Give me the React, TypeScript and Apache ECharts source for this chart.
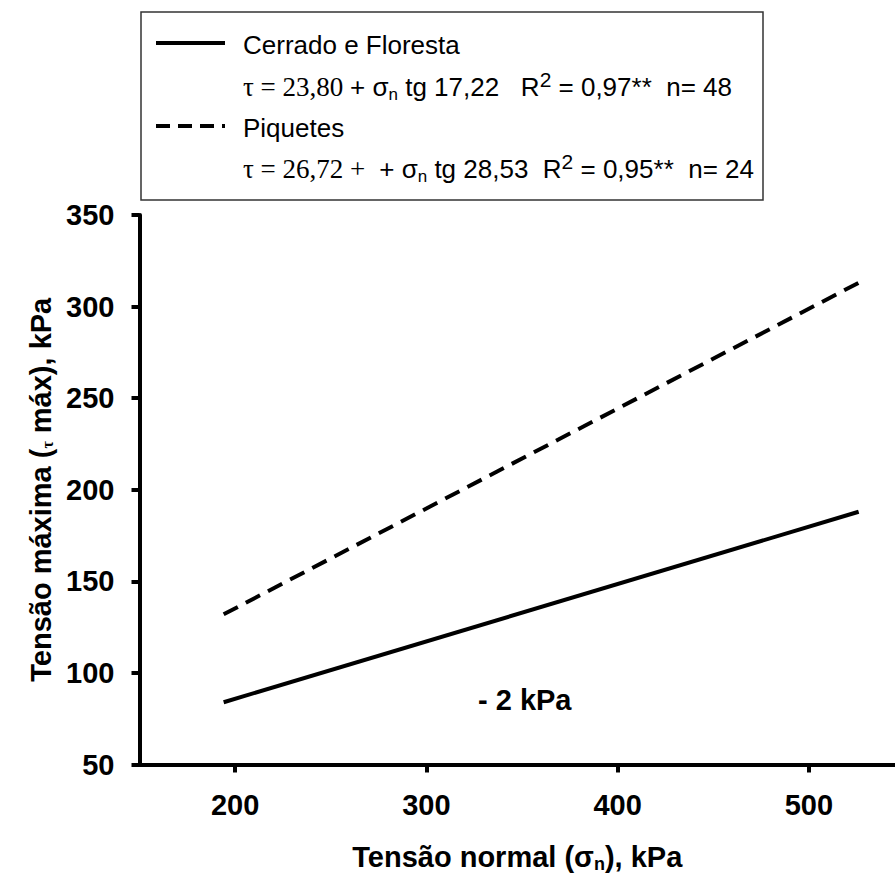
import React, { useEffect, useRef } from "react";
import * as echarts from "echarts";

// Shear envelopes: normal stress (kPa) vs. maximum shear stress (kPa)
const normalStress = [194, 526];
const cerradoFloresta = [84, 188];
const piquetes = [132, 313];

const xTickValues = [200, 300, 400, 500];
const yMin = 50;
const yMax = 350;
const yStep = 50;

const legendRows = [
  {
    name: "Cerrado e Floresta",
    equation:
      "{s|τ = 23,80 }{a|+ }{a|σ}{sub|n}{a| tg 17,22   R}{sup|2}{a| = 0,97**  n= 48}",
    dashed: false,
  },
  {
    name: "Piquetes",
    equation:
      "{s|τ = 26,72 + }{a| + }{a|σ}{sub|n}{a| tg 28,53  R}{sup|2}{a| = 0,95**  n= 24}",
    dashed: true,
  },
];

const SANS = "'Liberation Sans', Arial, Helvetica, sans-serif";
const SERIF = "'Liberation Serif', 'Times New Roman', serif";

export default function App() {
  const ref = useRef<HTMLDivElement>(null);

  useEffect(() => {
    if (!ref.current) return;
    const chart = echarts.init(ref.current, null, { renderer: "svg" });

    const eqRich = {
      s: { fontFamily: SERIF, fontSize: 27, color: "#000" },
      a: { fontFamily: SANS, fontSize: 26, color: "#000" },
      sub: { fontFamily: SANS, fontSize: 17, color: "#000", padding: [14, 0, 0, 0] },
      sup: { fontFamily: SANS, fontSize: 21, color: "#000", padding: [0, 0, 16, 0] },
    };

    const legendGraphics: any[] = [
      {
        type: "rect",
        shape: { x: 141, y: 12, width: 622, height: 188 },
        style: { fill: "#fff", stroke: "#333", lineWidth: 1.5 },
        z: 10,
      },
    ];
    legendRows.forEach((row, i) => {
      const yName = 45 + i * 83;
      const yEq = 87 + i * 82;
      legendGraphics.push({
        type: "line",
        shape: { x1: 156, y1: yName - 2, x2: 225, y2: yName - 2 },
        style: {
          stroke: "#000",
          lineWidth: 4,
          lineDash: row.dashed ? [14, 8] : null,
        },
        z: 11,
      });
      legendGraphics.push({
        type: "text",
        x: 243,
        y: yName,
        style: {
          text: row.name,
          font: `26px ${SANS}`,
          fill: "#000",
          verticalAlign: "middle",
        },
        z: 11,
      });
      legendGraphics.push({
        type: "text",
        x: 243,
        y: yEq,
        style: {
          text: row.equation,
          rich: eqRich,
          fill: "#000",
          verticalAlign: "middle",
        },
        z: 11,
      });
    });

    const option: any = {
      animation: false,
      backgroundColor: "#fff",
      grid: { left: 139.5, right: 0, top: 215, bottom: 117.5 },
      xAxis: {
        type: "value",
        min: 150,
        max: 545,
        interval: 50,
        name: "Tensão normal (σ{sub|n}), kPa",
        nameLocation: "middle",
        nameGap: 76,
        nameTextStyle: {
          fontFamily: SANS,
          fontWeight: "bold",
          fontSize: 29,
          color: "#000",
          rich: {
            sub: {
              fontFamily: SANS,
              fontWeight: "bold",
              fontSize: 18,
              color: "#000",
              padding: [14, 0, 0, 0],
            },
          },
        },
        axisLine: { lineStyle: { color: "#000", width: 4 } },
        axisTick: {
          customValues: xTickValues,
          length: 8,
          lineStyle: { color: "#000", width: 4 },
        },
        axisLabel: {
          customValues: xTickValues,
          margin: 26,
          fontFamily: SANS,
          fontWeight: "bold",
          fontSize: 29,
          color: "#000",
        },
        splitLine: { show: false },
      },
      yAxis: {
        type: "value",
        min: yMin,
        max: yMax,
        interval: yStep,
        name: "Tensão máxima ({t|τ} máx), kPa",
        nameLocation: "middle",
        nameGap: 80,
        nameTextStyle: {
          fontFamily: SANS,
          fontWeight: "bold",
          fontSize: 29,
          color: "#000",
          rich: {
            t: {
              fontFamily: SERIF,
              fontSize: 16,
              color: "#000",
              padding: [13, 0, 0, 0],
            },
          },
        },
        axisLine: { show: true, lineStyle: { color: "#000", width: 4 } },
        axisTick: { show: true, length: 8, lineStyle: { color: "#000", width: 4 } },
        axisLabel: {
          margin: 25,
          fontFamily: SANS,
          fontWeight: "bold",
          fontSize: 29,
          color: "#000",
        },
        splitLine: { show: false },
      },
      series: [
        {
          name: "Cerrado e Floresta",
          type: "line",
          symbol: "none",
          lineStyle: { color: "#000", width: 4 },
          data: normalStress.map((x, i) => [x, cerradoFloresta[i]]),
        },
        {
          name: "Piquetes",
          type: "line",
          symbol: "none",
          lineStyle: { color: "#000", width: 4, type: [16, 9] },
          data: normalStress.map((x, i) => [x, piquetes[i]]),
        },
      ],
      graphic: [
        ...legendGraphics,
        {
          type: "text",
          x: 478,
          y: 700,
          style: {
            text: "- 2 kPa",
            font: `bold 29px ${SANS}`,
            fill: "#000",
            verticalAlign: "middle",
          },
        },
      ],
    };

    chart.setOption(option);
    return () => chart.dispose();
  }, []);

  return (
    <div
      ref={ref}
      style={{ position: "fixed", left: 0, top: 0, width: 895, height: 882 }}
    />
  );
}
